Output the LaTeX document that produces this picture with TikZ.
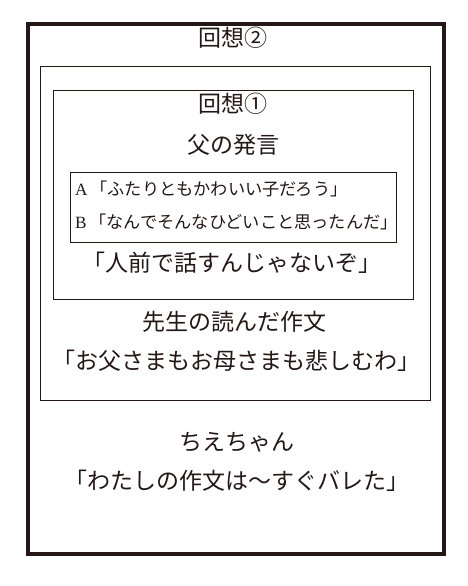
\documentclass[tikz,border=0pt]{standalone}
\usepackage{fontspec}
\newfontfamily\jp{Noto Sans CJK JP}
\newfontfamily\lat{Liberation Serif}
\definecolor{ink}{RGB}{35,24,21}
\tikzset{frame/.style={draw=ink,line width=1pt}}
\tikzset{big/.style={font=\jp\fontsize{23}{23}\selectfont,text=ink,inner sep=0pt}}
\tikzset{small/.style={font=\jp\fontsize{17.2}{17.2}\selectfont,text=ink,inner sep=0pt,anchor=west}}

\begin{document}
\begin{tikzpicture}[x=1pt,y=-1pt]
    \useasboundingbox (0,0) rectangle (468,586);

    % outer frame
    \draw[draw=ink,line width=4pt] (28,24) rectangle (444,554);

    % recall frames
    \draw[frame] (40.5,66.5) rectangle (430.5,400);
    \draw[frame] (53.5,90.5) rectangle (413.5,299);
    \draw[frame] (70.5,172) rectangle (396,242.5);

    % recall 2
    \node[big] (recall2) at (233,38) {回想②};

    % recall 1
    \node[big] (recall1) at (233,104) {回想①};
    \node[big] (father) at (233,145) {父の発言};
    \node[small] (lineA) at (75,189) {{\lat A}\,「ふたりともかわいい子だろう」};
    \node[small] (lineB) at (75,222) {{\lat B}\,「なんでそんなひどいこと思ったんだ」};
    \node[big] (hitomae) at (232,263) {「人前で話すんじゃないぞ」};

    % teacher
    \node[big] (teacher) at (234,322) {先生の読んだ作文};
    \node[big] (sakubun) at (236,361) {「お父さまもお母さまも悲しむわ」};

    % chie
    \node[big] (chie) at (237,442) {ちえちゃん};
    \node[big] (bareta) at (237,481) {「わたしの作文は～すぐバレた」};
\end{tikzpicture}
\end{document}
